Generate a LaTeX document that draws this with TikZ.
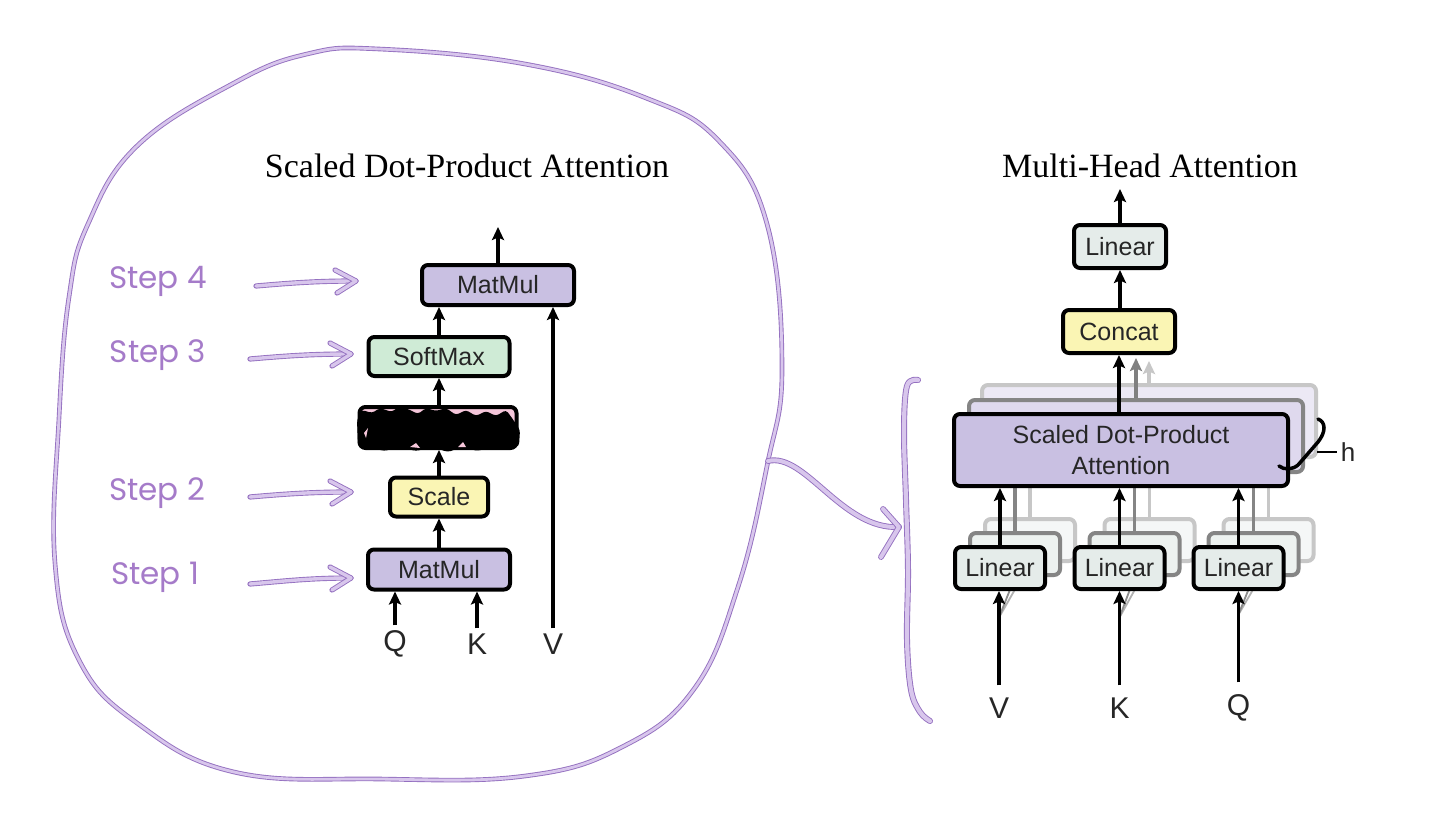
\documentclass[tikz,border=0pt]{standalone}
\usepackage{fontspec}
\setmainfont{Liberation Serif}
\setsansfont{Liberation Sans}
\newfontfamily\handfont{Poppins}
\usetikzlibrary{arrows.meta,calc}
\definecolor{mmfill}{HTML}{C9C0E2}
\definecolor{smfill}{HTML}{CFEBD6}
\definecolor{scfill}{HTML}{FAF5B4}
\definecolor{pkfill}{HTML}{F5C6DA}
\definecolor{linfill}{HTML}{E5ECEA}
\definecolor{handc}{HTML}{9470C0}
\definecolor{handin}{HTML}{D8C6EC}
\definecolor{stepc}{HTML}{A57BC9}
\begin{document}
\begin{tikzpicture}[x=1pt,y=-1pt,
  box/.style={draw=black, line width=4pt, rounded corners=6pt, inner sep=0pt,
    font=\sffamily\fontsize{25}{31}\selectfont, text=black!85},
  arr/.style={line width=3.5pt, -{Stealth[length=13pt,width=12pt,inset=2.5pt]}},
  hand/.style={draw=handc, line width=0.9pt, double=handin, double distance=3.4pt,
    line cap=round, line join=round},
  lbl/.style={font=\sffamily\fontsize{30}{32}\selectfont, inner sep=0pt, text=black!85},
  ttl/.style={font=\fontsize{34}{38}\selectfont, inner sep=0pt},
  steplbl/.style={font=\handfont\fontsize{31}{34}\selectfont, text=stepc, inner sep=0pt}
]
\fill[white] (0,0) rectangle (1456,816);
\useasboundingbox (0,0) rectangle (1456,816);

% ---------- hand-drawn blob ----------
\draw[hand, double distance=2.8pt] plot[smooth cycle, tension=0.7] coordinates {
 (137,146) (88,224) (69,297) (59,418) (55,563) (79,660) (137,723) (234,772)
 (379,779) (525,776) (622,747) (694,689) (738,587) (767,466) (782,369)
 (767,224) (719,141) (646,98) (525,64) (379,49) (307,54) (234,83)};

% ---------- titles ----------
\node[ttl] (t1) at (467,166) {Scaled Dot-Product Attention};
\node[ttl] (t2) at (1150,166) {Multi-Head Attention};

% ---------- left diagram ----------
\node[box, fill=mmfill, minimum width=152pt, minimum height=40pt] (mmtop) at (498,285) {MatMul};
\node[box, fill=smfill, minimum width=141pt, minimum height=39pt] (soft) at (439,356.5) {SoftMax};
\node[box, fill=pkfill, minimum width=157pt, minimum height=41pt] (mask) at (438,427.5) {};
\node[box, fill=scfill, minimum width=98pt, minimum height=39pt] (scale) at (439,497) {Scale};
\node[box, fill=mmfill, minimum width=142pt, minimum height=40pt] (mmbot) at (439,569.5) {MatMul};

% scribble over the mask box
\fill[black, rounded corners=3pt]
  (357,420) -- (362,410) -- (372,413) -- (380,408) -- (392,412) -- (398,407) -- (408,409)
  -- (418,414) -- (426,408) -- (436,411) -- (446,408) -- (456,415) -- (466,410) -- (476,416)
  -- (486,411) -- (496,416) -- (506,410) -- (512,418) -- (520,430) -- (519,446)
  -- (506,450) -- (492,446) -- (478,451) -- (462,447) -- (448,452) -- (432,447)
  -- (416,451) -- (400,447) -- (384,451) -- (370,447) -- (358,446) -- cycle;
\fill[pkfill] (364,433) -- (368,428) -- (366,438) -- cycle;
\fill[pkfill] (410,447) -- (416,443) -- (420,448) -- cycle;
\fill[pkfill] (458,447) -- (463,442) -- (466,447) -- cycle;

\node[lbl] (q1) at (395,644) {Q};
\node[lbl] (k1) at (477,644) {K};
\node[lbl] (v1) at (553,644) {V};
\coordinate (outL) at (498,227);

\draw[arr] ([yshift=5pt]q1.north) -- (q1.north |- mmbot.south);
\draw[arr] ([yshift=5pt]k1.north) -- (k1.north |- mmbot.south);
\draw[arr] ([yshift=5pt]v1.north) -- (v1.north |- mmtop.south);
\draw[arr] (mmbot.north) -- (scale.south);
\draw[arr] (scale.north) -- (scale.north |- mask.south);
\draw[arr] (scale.north |- mask.north) -- (soft.south);
\draw[arr] (soft.north) -- (soft.north |- mmtop.south);
\draw[arr] (mmtop.north) -- (outL);

% ---------- step labels ----------
\node[steplbl] (s4) at (158,281) {Step 4};
\node[steplbl] (s3) at (158,355) {Step 3};
\node[steplbl] (s2) at (157,493) {Step 2};
\node[steplbl] (s1) at (155,577) {Step 1};

\coordinate (s4a) at (256,286); \coordinate (s4b) at (356,281);
\coordinate (s3a) at (250,359); \coordinate (s3b) at (351,354);
\coordinate (s2a) at (250,497); \coordinate (s2b) at (351,492);
\coordinate (s1a) at (250,584); \coordinate (s1b) at (351,578);
\foreach \a/\b in {s4a/s4b, s3a/s3b, s2a/s2b, s1a/s1b}{
  \draw[hand] (\a) .. controls ($(\a)+(35,-3)$) and ($(\b)+(-40,0)$) .. (\b);
  \draw[hand] ($(\b)+(-21,-11)$) -- (\b) -- ($(\b)+(-19,12)$);
}

% ---------- connector blob -> brace ----------
\coordinate (bl) at (768,461);
\coordinate (br) at (899,527);
\draw[hand, double distance=4pt] (bl) .. controls (805,452) and (842,530) .. (br);
\draw[hand, double distance=4pt] (883,509) -- (br) -- (881,557);
\draw[hand, double distance=4.2pt] plot[smooth, tension=0.6] coordinates {
 (918,380) (907,386) (904,430) (906,500) (908,570) (907,640) (911,690) (920,712) (930,721)};

% ---------- right diagram ----------
\node[box, fill=linfill, minimum width=92pt, minimum height=43pt] (lin0) at (1120,246.5) {Linear};
\node[box, fill=scfill, minimum width=112pt, minimum height=43pt] (concat) at (1119,331.5) {Concat};
\coordinate (outR) at (1120,189);

\node[box, draw=black!22, fill=mmfill!35, minimum width=334pt, minimum height=72pt] (sdpaC) at (1149,421) {};
\node[box, draw=black!48, fill=mmfill!60, minimum width=334pt, minimum height=72pt] (sdpaB) at (1136,436) {};

\foreach \n/\cx in {V/1000, K/1119.5, Q/1238.5}{
  \node[box, draw=black!22, fill=linfill!40, minimum width=90pt, minimum height=42pt] (lin\n C) at (\cx+30,540) {};
  \node[box, draw=black!48, fill=linfill!70, minimum width=90pt, minimum height=42pt] (lin\n B) at (\cx+15,554) {};
  \draw[line width=3.5pt, black!22] (lin\n C.north) -- (lin\n C.north |- sdpaC.south);
  \draw[line width=3.5pt, black!48] (lin\n B.north) -- (lin\n B.north |- sdpaB.south);
}

\node[box, fill=mmfill, minimum width=334pt, minimum height=72pt, align=center] (sdpa) at (1121,450) {Scaled Dot-Product\\Attention};

\node[lbl] (vR) at (999,708) {V};
\node[lbl] (kR) at (1119.5,708) {K};
\node[lbl] (qR) at (1238.5,708) {Q};

\foreach \n/\l in {V/vR, K/kR, Q/qR}{
  \draw[line width=1.8pt, black!30] ([yshift=80pt]\l.north) -- (lin\n C.south);
  \draw[line width=1.8pt, black!45] ([yshift=80pt]\l.north) -- (lin\n B.south);
}

\node[box, fill=linfill, minimum width=90pt, minimum height=42pt] (linV) at (1000,568) {Linear};
\node[box, fill=linfill, minimum width=90pt, minimum height=42pt] (linK) at (1119.5,568) {Linear};
\node[box, fill=linfill, minimum width=90pt, minimum height=42pt] (linQ) at (1238.5,568) {Linear};

\draw[arr] ([yshift=12pt]vR.north) -- (vR.north |- linV.south);
\draw[arr] ([yshift=12pt]kR.north) -- (kR.north |- linK.south);
\draw[arr] ([yshift=12pt]qR.north) -- (qR.north |- linQ.south);
\draw[arr] (linV.north) -- (linV.north |- sdpa.south);
\draw[arr] (linK.north) -- (linK.north |- sdpa.south);
\draw[arr] (linQ.north) -- (linQ.north |- sdpa.south);

\draw[arr, black!22] (sdpaC.north) -- ([yshift=-6pt]sdpaC.north |- concat.south);
\draw[arr, black!50] (sdpaB.north) -- ([yshift=-3pt]sdpaB.north |- concat.south);
\draw[arr] (sdpa.north -| concat.south) -- (concat.south);
\draw[arr] (concat.north -| lin0.south) -- (lin0.south);
\draw[arr] (lin0.north) -- (outR);

% h brace
\node[inner sep=0pt, font=\sffamily\fontsize{26}{28}\selectfont, text=black!85] (hl) at (1348,452) {h};
\draw[line width=3.5pt, line cap=round, line join=round]
  (1318,419) .. controls (1326,422) and (1326,432) .. (1318,442) -- (1298,465)
  .. controls (1292,470) and (1284,470) .. (1279,466);
\draw[line width=2.5pt] ([xshift=-4pt]hl.west) -- ([xshift=-24pt]hl.west);
\end{tikzpicture}
\end{document}
